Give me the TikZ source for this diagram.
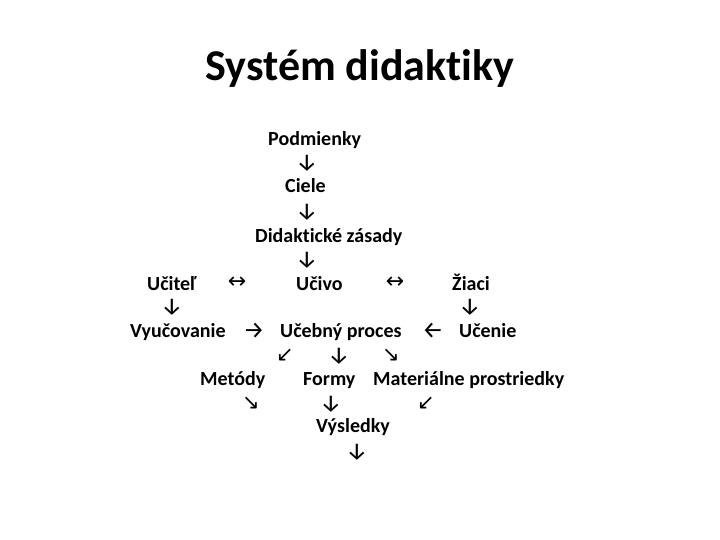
\documentclass[tikz,border=0pt]{standalone}
\usepackage{fontspec}
\setmainfont{Carlito}[RawFeature=-liga]
\newfontfamily\arrowfont{Fira Sans}
\newfontfamily\symfont{DejaVu Sans}
\begin{document}
\begin{tikzpicture}[x=1pt,y=-1pt,
  lbl/.style={inner sep=0pt,anchor=base west,font=\fontsize{20}{24}\selectfont\bfseries},
  arr/.style={inner sep=0pt,anchor=center,font=\fontsize{24}{28}\selectfont\arrowfont},
  harr/.style={inner sep=0pt,anchor=center,font=\fontsize{22}{26}\selectfont\symfont},
  darr/.style={inner sep=0pt,anchor=center,font=\fontsize{21}{24}\selectfont\symfont}]
\useasboundingbox (0,0) rectangle (720,540);
\node[inner sep=0pt,anchor=base,font=\fontsize{44}{52}\selectfont\bfseries] (title) at (360,81) {Systém didaktiky};
\node[lbl] (podm) at (268,146) {Podmienky};
\node[arr] (a1) at (307,163) {↓};
\node[lbl] (ciele) at (285,193) {Ciele};
\node[arr] (a2) at (307,212) {↓};
\node[lbl] (zas) at (255,242) {Didaktické zásady};
\node[arr] (a3) at (307,260) {↓};
\node[lbl] (ucitel) at (147,290) {Učiteľ};
\node[harr] (a4) at (237,283) {↔};
\node[lbl] (ucivo) at (296,290) {Učivo};
\node[harr] (a5) at (395,283) {↔};
\node[lbl] (ziaci) at (452,290) {Žiaci};
\node[arr] (a6) at (172,307) {↓};
\node[arr] (a7) at (470,307) {↓};
\node[lbl] (vyuc) at (130,337) {Vyučovanie};
\node[arr] (a8) at (254,331) {→};
\node[lbl] (proc) at (280,337) {Učebný proces};
\node[arr] (a9) at (433,331) {←};
\node[lbl] (ucenie) at (459,337) {Učenie};
\node[darr] (a10) at (285,355) {↙};
\node[arr] (a11) at (339,356) {↓};
\node[darr] (a12) at (391,355) {↘};
\node[lbl] (met) at (200,385) {Metódy};
\node[lbl] (formy) at (303,385) {Formy};
\node[lbl] (mat) at (373,385) {Materiálne prostriedky};
\node[darr] (a13) at (251,403) {↘};
\node[arr] (a14) at (331,404) {↓};
\node[darr] (a15) at (426,403) {↙};
\node[lbl] (vys) at (316,432) {Výsledky};
\node[arr] (a16) at (357,452) {↓};
\end{tikzpicture}
\end{document}
